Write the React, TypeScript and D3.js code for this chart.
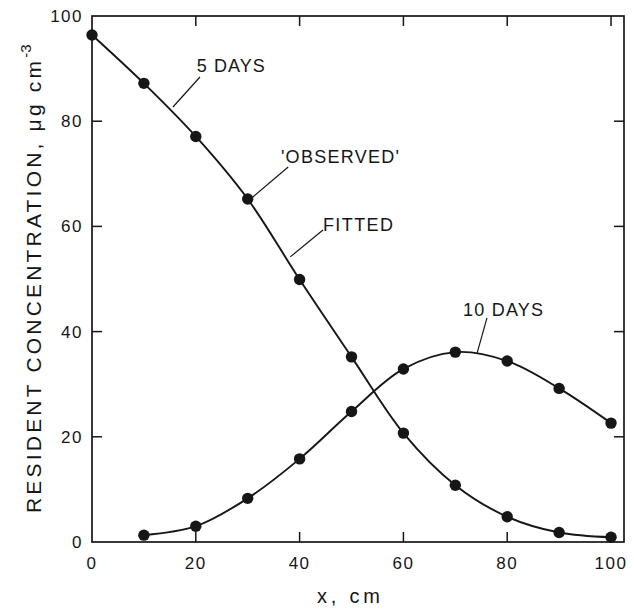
import React from "react";
import * as d3 from "d3";

const xs5 = [0, 10, 20, 30, 40, 50, 60, 70, 80, 90, 100];
const days5 = [96.4, 87.2, 77.1, 65.2, 49.9, 35.2, 20.7, 10.8, 4.8, 1.8, 0.9];
const xs10 = [10, 20, 30, 40, 50, 60, 70, 80, 90, 100];
const days10 = [1.3, 3.0, 8.3, 15.8, 24.8, 32.9, 36.1, 34.4, 29.2, 22.6];
const xTicks = [0, 20, 40, 60, 80, 100];
const yTicks = [0, 20, 40, 60, 80, 100];

// annotation labels: text anchor (data units) and leader line (data units)
const labels = [
  { text: "5 DAYS", tx: 20.2, ty: 89.4, len: 68, l: [20.8, 88.4, 15.6, 82.7] },
  { text: "'OBSERVED'", tx: 36.4, ty: 72.1, len: 118, l: [37.8, 71.3, 31.0, 65.6] },
  { text: "FITTED", tx: 44.5, ty: 59.1, len: 70, l: [44.5, 59.3, 38.2, 54.2] },
  { text: "10 DAYS", tx: 71.5, ty: 43.0, len: 80, l: [76.1, 42.6, 74.2, 35.9] },
];

const W = 634;
const H = 610;
const left = 92;
const right = 624;
const top = 16;
const bottom = 542;

export default function App() {
  const x = d3.scaleLinear().domain([0, 102.5]).range([left, right]);
  const y = d3.scaleLinear().domain([0, 100]).range([bottom, top]);
  const line = d3
    .line<[number, number]>()
    .x((d) => x(d[0]))
    .y((d) => y(d[1]))
    .curve(d3.curveCatmullRom.alpha(0.5));
  const s5: [number, number][] = xs5.map((v, i) => [v, days5[i]]);
  const s10: [number, number][] = xs10.map((v, i) => [v, days10[i]]);
  const ink = "#161616";
  const font = "'Liberation Sans', Arial, sans-serif";
  const tickLen = 10;

  return (
    <svg
      width={W}
      height={H}
      style={{ position: "absolute", left: 0, top: 0, background: "#fff" }}
      fontFamily={font}
    >
      <rect x={0} y={0} width={W} height={H} fill="#fff" />
      {/* frame */}
      <rect
        x={left}
        y={top}
        width={right - left}
        height={bottom - top}
        fill="none"
        stroke={ink}
        strokeWidth={1.7}
      />
      {/* ticks */}
      {xTicks
        .filter((t) => t > 0)
        .map((t) => (
          <g key={"xt" + t}>
            <line x1={x(t)} x2={x(t)} y1={top} y2={top + tickLen} stroke={ink} strokeWidth={1.5} />
            {t < 100 && (
              <line x1={x(t)} x2={x(t)} y1={bottom} y2={bottom - tickLen} stroke={ink} strokeWidth={1.5} />
            )}
          </g>
        ))}
      {yTicks
        .filter((t) => t > 0 && t < 100)
        .map((t) => (
          <g key={"yt" + t}>
            <line x1={left} x2={left + tickLen} y1={y(t)} y2={y(t)} stroke={ink} strokeWidth={1.5} />
            <line x1={right} x2={right - tickLen} y1={y(t)} y2={y(t)} stroke={ink} strokeWidth={1.5} />
          </g>
        ))}
      {/* tick labels */}
      {xTicks.map((t) => (
        <text
          key={"xl" + t}
          x={x(t)}
          y={569}
          textAnchor="middle"
          fontSize={17}
          letterSpacing={1.5}
          fill={ink}
        >
          {t}
        </text>
      ))}
      {yTicks.map((t) => (
        <text
          key={"yl" + t}
          x={83}
          y={y(t) + 6}
          textAnchor="end"
          fontSize={17}
          letterSpacing={1.5}
          fill={ink}
        >
          {t}
        </text>
      ))}
      {/* axis titles */}
      <text x={317} y={603} fontSize={20} fill={ink} textLength={63} lengthAdjust="spacing">
        x, cm
      </text>
      <text transform={`translate(41, 513) rotate(-90)`} fontSize={21} fill={ink}>
        <tspan textLength={452} lengthAdjust="spacing">
          RESIDENT CONCENTRATION, μg cm
        </tspan>
        <tspan dy={-10} fontSize={15}>
          -3
        </tspan>
      </text>
      {/* curves */}
      <path d={line(s5) || ""} fill="none" stroke={ink} strokeWidth={1.9} />
      <path d={line(s10) || ""} fill="none" stroke={ink} strokeWidth={1.9} />
      {s5.map((d, i) => (
        <circle key={"p5" + i} cx={x(d[0])} cy={y(d[1])} r={5.7} fill={ink} />
      ))}
      {s10.map((d, i) => (
        <circle key={"p10" + i} cx={x(d[0])} cy={y(d[1])} r={5.7} fill={ink} />
      ))}
      {/* annotations */}
      {labels.map((a) => (
        <g key={a.text}>
          <line
            x1={x(a.l[0])}
            y1={y(a.l[1])}
            x2={x(a.l[2])}
            y2={y(a.l[3])}
            stroke={ink}
            strokeWidth={1.2}
          />
          <text
            x={x(a.tx)}
            y={y(a.ty)}
            fontSize={18}
            fill={ink}
            textLength={a.len}
            lengthAdjust="spacing"
          >
            {a.text}
          </text>
        </g>
      ))}
    </svg>
  );
}
